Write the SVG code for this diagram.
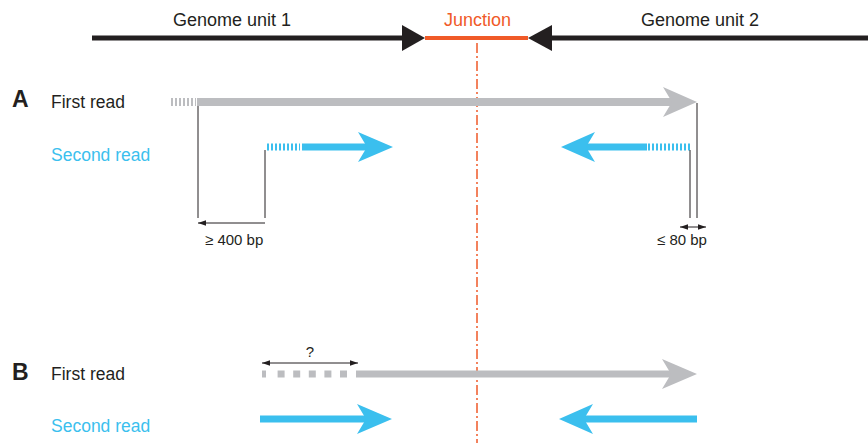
<svg xmlns="http://www.w3.org/2000/svg" width="868" height="443" viewBox="0 0 868 443">
<defs>
<marker id="ah" viewBox="0 0 10 10" refX="10" refY="5" markerWidth="8" markerHeight="8" markerUnits="userSpaceOnUse" orient="auto-start-reverse">
<path d="M0,1.5 L10,5 L0,8.5 Z" fill="#231f20"/>
</marker>
</defs>
<style>
text{font-family:"Liberation Sans",Arial,sans-serif;}
.lbl{font-size:17.5px;fill:#231f20;}
.top{font-size:18px;}
.blue{fill:#3bbfee;}
.orange{fill:#f05a28;}
.let{font-size:23px;font-weight:bold;fill:#231f20;}
.small{font-size:15px;fill:#231f20;}
.gray{stroke:#bcbdc0;}
.bl{stroke:#3bbfee;}
.thin{stroke:#231f20;stroke-width:1;fill:none;}
</style>
<rect width="868" height="443" fill="#fff"/>
<g id="genome">
<line x1="92" y1="38" x2="404" y2="38" stroke="#231f20" stroke-width="5"/>
<polygon points="402,25 425,38 402,51" fill="#231f20"/>
<line x1="425" y1="38" x2="528" y2="38" stroke="#f05a28" stroke-width="4"/>
<polygon points="552,25 528,38 552,51" fill="#231f20"/>
<line x1="550" y1="38" x2="868" y2="38" stroke="#231f20" stroke-width="5"/>
<text class="lbl top" x="232" y="26" text-anchor="middle">Genome unit 1</text>
<text class="lbl top orange" x="477.5" y="26" text-anchor="middle">Junction</text>
<text class="lbl top" x="700" y="26" text-anchor="middle">Genome unit 2</text>
<line x1="477" y1="43" x2="477" y2="443" stroke="#f05a28" stroke-width="1.5" stroke-dasharray="10,3,2,3"/>
</g>
<g id="labels">
<text class="let" x="12" y="107">A</text>
<text class="lbl" x="51" y="108">First read</text>
<text class="lbl blue" x="51" y="161">Second read</text>
<text class="let" x="12" y="380">B</text>
<text class="lbl" x="51" y="380">First read</text>
<text class="lbl blue" x="51" y="432">Second read</text>
</g>
<g id="readA1">
<line x1="171" y1="102" x2="196" y2="102" class="gray" stroke-width="8" stroke-dasharray="2,2"/>
<line x1="197" y1="102" x2="674" y2="102" class="gray" stroke-width="8"/>
<polygon points="663,87 697,102 663,117 672,102" fill="#bcbdc0"/>
</g>
<g id="readA2left">
<line x1="267" y1="147" x2="300" y2="147" class="bl" stroke-width="7" stroke-dasharray="2,2"/>
<line x1="302" y1="147" x2="368" y2="147" class="bl" stroke-width="7"/>
<polygon points="358,132 393,147 358,162 367,147" fill="#3bbfee"/>
</g>
<g id="readA2right">
<line x1="648" y1="147" x2="690" y2="147" class="bl" stroke-width="7" stroke-dasharray="2,2"/>
<line x1="586" y1="147" x2="647" y2="147" class="bl" stroke-width="7"/>
<polygon points="595,132 561,147 595,162 586,147" fill="#3bbfee"/>
</g>
<g id="readB1">
<line x1="262" y1="374" x2="355" y2="374" class="gray" stroke-width="7" stroke-dasharray="4,11.6,7,8.6,7,8.6,7,8.6,7,8.6,7,8.6,3"/>
<line x1="356" y1="374" x2="674" y2="374" class="gray" stroke-width="7"/>
<polygon points="662,359 697,374 662,389 671,374" fill="#bcbdc0"/>
</g>
<g id="readB2left">
<line x1="260" y1="419" x2="368" y2="419" class="bl" stroke-width="7"/>
<polygon points="357,404 392,419 357,434 366,419" fill="#3bbfee"/>
</g>
<g id="readB2right">
<line x1="584" y1="419" x2="697" y2="419" class="bl" stroke-width="7"/>
<polygon points="593,404 559,419 593,434 584,419" fill="#3bbfee"/>
</g>
<g id="connectors">
<line class="thin" x1="198" y1="106" x2="198" y2="218"/>
<line class="thin" x1="265" y1="150" x2="265" y2="218"/>
<line class="thin" x1="265" y1="223" x2="198" y2="223" marker-end="url(#ah)"/>
<line class="thin" x1="690" y1="150" x2="690" y2="218"/>
<line class="thin" x1="697" y1="103" x2="697" y2="218"/>
<line class="thin" x1="680" y1="227" x2="706" y2="227" marker-start="url(#ah)" marker-end="url(#ah)"/>
<line class="thin" x1="262" y1="363" x2="358" y2="363" marker-start="url(#ah)" marker-end="url(#ah)"/>
</g>
<g id="dimlabels">
<text class="small" x="205" y="245">≥ 400 bp</text>
<text class="small" x="657" y="245">≤ 80 bp</text>
<text class="small" x="310" y="357" text-anchor="middle">?</text>
</g>
</svg>
